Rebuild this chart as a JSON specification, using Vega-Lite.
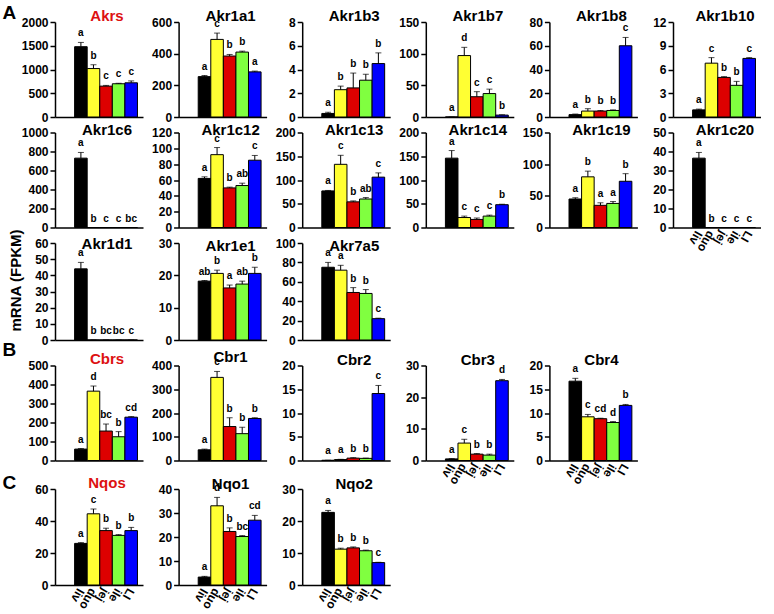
{
"$schema": "https://vega.github.io/schema/vega-lite/v6.json",
"padding": {"left": 2, "top": 3, "right": 0, "bottom": 0},
"datasets": {"d": [
{"g":"Akrs","t":"liv","v":1480,"hi":1570,"l":"a"},{"g":"Akrs","t":"duo","v":1020,"hi":1100,"l":"b"},{"g":"Akrs","t":"jej","v":650,"hi":665,"l":"c"},{"g":"Akrs","t":"ile","v":700,"hi":710,"l":"c"},{"g":"Akrs","t":"LI","v":720,"hi":760,"l":"c"},
{"g":"Akr1a1","t":"liv","v":255,"hi":262,"l":"a"},{"g":"Akr1a1","t":"duo","v":490,"hi":530,"l":"c"},{"g":"Akr1a1","t":"jej","v":385,"hi":395,"l":"b"},{"g":"Akr1a1","t":"ile","v":410,"hi":416,"l":"b"},{"g":"Akr1a1","t":"LI","v":285,"hi":290,"l":"a"},
{"g":"Akr1b3","t":"liv","v":0.3,"hi":0.4,"l":"a"},{"g":"Akr1b3","t":"duo","v":2.3,"hi":2.6,"l":"b"},{"g":"Akr1b3","t":"jej","v":2.45,"hi":3.7,"l":"b"},{"g":"Akr1b3","t":"ile","v":3.1,"hi":3.6,"l":"b"},{"g":"Akr1b3","t":"LI","v":4.5,"hi":5.4,"l":"b"},
{"g":"Akr1b7","t":"liv","v":0,"hi":0,"l":"a"},{"g":"Akr1b7","t":"duo","v":97,"hi":110,"l":"d"},{"g":"Akr1b7","t":"jej","v":32,"hi":40,"l":"c"},{"g":"Akr1b7","t":"ile","v":37,"hi":44,"l":"c"},{"g":"Akr1b7","t":"LI","v":3,"hi":3.5,"l":"b"},
{"g":"Akr1b8","t":"liv","v":2,"hi":2.5,"l":"a"},{"g":"Akr1b8","t":"duo","v":5,"hi":7,"l":"b"},{"g":"Akr1b8","t":"jej","v":5,"hi":5.5,"l":"b"},{"g":"Akr1b8","t":"ile","v":5.5,"hi":6,"l":"b"},{"g":"Akr1b8","t":"LI","v":60,"hi":67,"l":"c"},
{"g":"Akr1b10","t":"liv","v":0.9,"hi":1.0,"l":"a"},{"g":"Akr1b10","t":"duo","v":6.8,"hi":7.5,"l":"c"},{"g":"Akr1b10","t":"jej","v":5.0,"hi":5.1,"l":"b"},{"g":"Akr1b10","t":"ile","v":4.0,"hi":4.5,"l":"b"},{"g":"Akr1b10","t":"LI","v":7.4,"hi":7.5,"l":"c"},
{"g":"Akr1c6","t":"liv","v":730,"hi":790,"l":"a"},{"g":"Akr1c6","t":"duo","v":0,"hi":0,"l":"b"},{"g":"Akr1c6","t":"jej","v":0,"hi":0,"l":"c"},{"g":"Akr1c6","t":"ile","v":0,"hi":0,"l":"c"},{"g":"Akr1c6","t":"LI","v":0,"hi":0,"l":"bc"},
{"g":"Akr1c12","t":"liv","v":62,"hi":64,"l":"a"},{"g":"Akr1c12","t":"duo","v":92,"hi":101,"l":"c"},{"g":"Akr1c12","t":"jej","v":50,"hi":51,"l":"b"},{"g":"Akr1c12","t":"ile","v":53,"hi":56,"l":"ab"},{"g":"Akr1c12","t":"LI","v":85,"hi":91,"l":"c"},
{"g":"Akr1c13","t":"liv","v":77,"hi":78,"l":"a"},{"g":"Akr1c13","t":"duo","v":133,"hi":152,"l":"c"},{"g":"Akr1c13","t":"jej","v":54,"hi":56,"l":"b"},{"g":"Akr1c13","t":"ile","v":60,"hi":63,"l":"ab"},{"g":"Akr1c13","t":"LI","v":106,"hi":115,"l":"c"},
{"g":"Akr1c14","t":"liv","v":146,"hi":162,"l":"a"},{"g":"Akr1c14","t":"duo","v":21,"hi":24,"l":"c"},{"g":"Akr1c14","t":"jej","v":17,"hi":20,"l":"c"},{"g":"Akr1c14","t":"ile","v":24,"hi":26,"l":"c"},{"g":"Akr1c14","t":"LI","v":48,"hi":49,"l":"b"},
{"g":"Akr1c19","t":"liv","v":45,"hi":47,"l":"a"},{"g":"Akr1c19","t":"duo","v":80,"hi":89,"l":"b"},{"g":"Akr1c19","t":"jej","v":35,"hi":39,"l":"a"},{"g":"Akr1c19","t":"ile","v":38,"hi":41,"l":"a"},{"g":"Akr1c19","t":"LI","v":73,"hi":85,"l":"b"},
{"g":"Akr1c20","t":"liv","v":36.5,"hi":39.5,"l":"a"},{"g":"Akr1c20","t":"duo","v":0,"hi":0,"l":"b"},{"g":"Akr1c20","t":"jej","v":0,"hi":0,"l":"c"},{"g":"Akr1c20","t":"ile","v":0,"hi":0,"l":"c"},{"g":"Akr1c20","t":"LI","v":0,"hi":0,"l":"c"},
{"g":"Akr1d1","t":"liv","v":44,"hi":48,"l":"a"},{"g":"Akr1d1","t":"duo","v":0,"hi":0,"l":"b"},{"g":"Akr1d1","t":"jej","v":0,"hi":0,"l":"bc"},{"g":"Akr1d1","t":"ile","v":0,"hi":0,"l":"bc"},{"g":"Akr1d1","t":"LI","v":0,"hi":0,"l":"c"},
{"g":"Akr1e1","t":"liv","v":18.2,"hi":18.4,"l":"ab"},{"g":"Akr1e1","t":"duo","v":20.6,"hi":21.6,"l":"b"},{"g":"Akr1e1","t":"jej","v":16.1,"hi":17.0,"l":"a"},{"g":"Akr1e1","t":"ile","v":17.3,"hi":18.2,"l":"ab"},{"g":"Akr1e1","t":"LI","v":20.6,"hi":22.5,"l":"b"},
{"g":"Akr7a5","t":"liv","v":75,"hi":80,"l":"a"},{"g":"Akr7a5","t":"duo","v":72,"hi":77,"l":"a"},{"g":"Akr7a5","t":"jej","v":49,"hi":54,"l":"b"},{"g":"Akr7a5","t":"ile","v":48,"hi":52,"l":"b"},{"g":"Akr7a5","t":"LI","v":22,"hi":22.5,"l":"c"},
{"g":"Cbrs","t":"liv","v":60,"hi":63,"l":"a"},{"g":"Cbrs","t":"duo","v":365,"hi":392,"l":"d"},{"g":"Cbrs","t":"jej","v":155,"hi":192,"l":"bc"},{"g":"Cbrs","t":"ile","v":125,"hi":152,"l":"b"},{"g":"Cbrs","t":"LI","v":228,"hi":231,"l":"cd"},
{"g":"Cbr1","t":"liv","v":45,"hi":48,"l":"a"},{"g":"Cbr1","t":"duo","v":350,"hi":375,"l":"c"},{"g":"Cbr1","t":"jej","v":143,"hi":180,"l":"b"},{"g":"Cbr1","t":"ile","v":113,"hi":140,"l":"b"},{"g":"Cbr1","t":"LI","v":177,"hi":180,"l":"b"},
{"g":"Cbr2","t":"liv","v":0.05,"hi":0.05,"l":"a"},{"g":"Cbr2","t":"duo","v":0.2,"hi":0.25,"l":"a"},{"g":"Cbr2","t":"jej","v":0.5,"hi":0.6,"l":"b"},{"g":"Cbr2","t":"ile","v":0.45,"hi":0.5,"l":"b"},{"g":"Cbr2","t":"LI","v":14.1,"hi":15.8,"l":"c"},
{"g":"Cbr3","t":"liv","v":0.5,"hi":0.6,"l":"a"},{"g":"Cbr3","t":"duo","v":5.5,"hi":6.7,"l":"c"},{"g":"Cbr3","t":"jej","v":2.0,"hi":2.2,"l":"b"},{"g":"Cbr3","t":"ile","v":1.7,"hi":2.0,"l":"b"},{"g":"Cbr3","t":"LI","v":25.2,"hi":25.6,"l":"d"},
{"g":"Cbr4","t":"liv","v":16.7,"hi":17.3,"l":"a"},{"g":"Cbr4","t":"duo","v":9.2,"hi":9.7,"l":"c"},{"g":"Cbr4","t":"jej","v":8.8,"hi":8.9,"l":"cd"},{"g":"Cbr4","t":"ile","v":8.0,"hi":8.2,"l":"d"},{"g":"Cbr4","t":"LI","v":11.6,"hi":11.8,"l":"b"},
{"g":"Nqos","t":"liv","v":26,"hi":26.5,"l":"a"},{"g":"Nqos","t":"duo","v":44.5,"hi":47.5,"l":"c"},{"g":"Nqos","t":"jej","v":34,"hi":35.5,"l":"b"},{"g":"Nqos","t":"ile","v":31,"hi":31.5,"l":"b"},{"g":"Nqos","t":"LI","v":34,"hi":36,"l":"b"},
{"g":"Nqo1","t":"liv","v":3.3,"hi":3.6,"l":"a"},{"g":"Nqo1","t":"duo","v":33,"hi":36.5,"l":"d"},{"g":"Nqo1","t":"jej","v":22.3,"hi":23.8,"l":"b"},{"g":"Nqo1","t":"ile","v":20.2,"hi":20.6,"l":"bc"},{"g":"Nqo1","t":"LI","v":27,"hi":29,"l":"cd"},
{"g":"Nqo2","t":"liv","v":22.7,"hi":23.3,"l":"a"},{"g":"Nqo2","t":"duo","v":11.2,"hi":11.5,"l":"b"},{"g":"Nqo2","t":"jej","v":11.6,"hi":11.9,"l":"b"},{"g":"Nqo2","t":"ile","v":10.7,"hi":10.9,"l":"b"},{"g":"Nqo2","t":"LI","v":7.0,"hi":7.1,"l":"c"}
]},
"data": {"name": "d"},
"columns": 6,
"align": "each",
"bounds": "flush",
"spacing": {"row": 15.5, "column": 35.6},
"concat": [
{"title":{"text":"Akrs","color":"#DD1111","offset":-21},"width":88,"height":95,"transform":[{"filter":"datum.g=='Akrs'"}],"encoding":{"x":{"field":"t","type":"nominal","scale":{"domain":["liv","duo","jej","ile","LI"],"paddingInner":0,"paddingOuter":1.02,"align":0.78},"axis":{"labels":false,"ticks":false,"title":null}},"y":{"field":"v","type":"quantitative","scale":{"domain":[0,2000],"nice":false},"axis":{"values":[0,500,1000,1500,2000],"format":"d","title":"A","titleAngle":0,"titleX":-53,"titleY":-4,"titleAlign":"left","titleBaseline":"alphabetic","titleFontSize":19}}},"layer":[{"mark":{"type":"bar","stroke":"black","strokeWidth":1},"encoding":{"color":{"field":"t","type":"nominal","scale":{"domain":["liv","duo","jej","ile","LI"],"range":["#000000","#FFFF33","#DD0000","#80FF40","#0000FF"]},"legend":null}}},{"mark":{"type":"rule","color":"black"},"encoding":{"y2":{"field":"hi"}}},{"mark":{"type":"tick","color":"black","thickness":1,"size":6},"encoding":{"y":{"field":"hi","type":"quantitative"}}},{"mark":{"type":"text","baseline":"alphabetic","dy":-6},"encoding":{"y":{"field":"hi","type":"quantitative"},"text":{"field":"l"}}}]},
{"title":{"text":"Akr1a1"},"width":88,"height":95,"transform":[{"filter":"datum.g=='Akr1a1'"}],"encoding":{"x":{"field":"t","type":"nominal","scale":{"domain":["liv","duo","jej","ile","LI"],"paddingInner":0,"paddingOuter":1.02,"align":0.78},"axis":{"labels":false,"ticks":false,"title":null}},"y":{"field":"v","type":"quantitative","title":null,"scale":{"domain":[0,600],"nice":false},"axis":{"values":[0,200,400,600]}}},"layer":[{"mark":{"type":"bar","stroke":"black","strokeWidth":1},"encoding":{"color":{"field":"t","type":"nominal","scale":{"domain":["liv","duo","jej","ile","LI"],"range":["#000000","#FFFF33","#DD0000","#80FF40","#0000FF"]},"legend":null}}},{"mark":{"type":"rule","color":"black"},"encoding":{"y2":{"field":"hi"}}},{"mark":{"type":"tick","color":"black","thickness":1,"size":6},"encoding":{"y":{"field":"hi","type":"quantitative","title":null}}},{"mark":{"type":"text","baseline":"alphabetic","dy":-6},"encoding":{"y":{"field":"hi","type":"quantitative","title":null},"text":{"field":"l"}}}]},
{"title":{"text":"Akr1b3"},"width":88,"height":95,"transform":[{"filter":"datum.g=='Akr1b3'"}],"encoding":{"x":{"field":"t","type":"nominal","scale":{"domain":["liv","duo","jej","ile","LI"],"paddingInner":0,"paddingOuter":1.02,"align":0.78},"axis":{"labels":false,"ticks":false,"title":null}},"y":{"field":"v","type":"quantitative","title":null,"scale":{"domain":[0,8],"nice":false},"axis":{"values":[0,2,4,6,8]}}},"layer":[{"mark":{"type":"bar","stroke":"black","strokeWidth":1},"encoding":{"color":{"field":"t","type":"nominal","scale":{"domain":["liv","duo","jej","ile","LI"],"range":["#000000","#FFFF33","#DD0000","#80FF40","#0000FF"]},"legend":null}}},{"mark":{"type":"rule","color":"black"},"encoding":{"y2":{"field":"hi"}}},{"mark":{"type":"tick","color":"black","thickness":1,"size":6},"encoding":{"y":{"field":"hi","type":"quantitative","title":null}}},{"mark":{"type":"text","baseline":"alphabetic","dy":-6},"encoding":{"y":{"field":"hi","type":"quantitative","title":null},"text":{"field":"l"}}}]},
{"title":{"text":"Akr1b7"},"width":88,"height":95,"transform":[{"filter":"datum.g=='Akr1b7'"}],"encoding":{"x":{"field":"t","type":"nominal","scale":{"domain":["liv","duo","jej","ile","LI"],"paddingInner":0,"paddingOuter":1.02,"align":0.78},"axis":{"labels":false,"ticks":false,"title":null}},"y":{"field":"v","type":"quantitative","title":null,"scale":{"domain":[0,150],"nice":false},"axis":{"values":[0,50,100,150]}}},"layer":[{"mark":{"type":"bar","stroke":"black","strokeWidth":1},"encoding":{"color":{"field":"t","type":"nominal","scale":{"domain":["liv","duo","jej","ile","LI"],"range":["#000000","#FFFF33","#DD0000","#80FF40","#0000FF"]},"legend":null}}},{"mark":{"type":"rule","color":"black"},"encoding":{"y2":{"field":"hi"}}},{"mark":{"type":"tick","color":"black","thickness":1,"size":6},"encoding":{"y":{"field":"hi","type":"quantitative","title":null}}},{"mark":{"type":"text","baseline":"alphabetic","dy":-6},"encoding":{"y":{"field":"hi","type":"quantitative","title":null},"text":{"field":"l"}}}]},
{"title":{"text":"Akr1b8"},"width":88,"height":95,"transform":[{"filter":"datum.g=='Akr1b8'"}],"encoding":{"x":{"field":"t","type":"nominal","scale":{"domain":["liv","duo","jej","ile","LI"],"paddingInner":0,"paddingOuter":1.02,"align":0.78},"axis":{"labels":false,"ticks":false,"title":null}},"y":{"field":"v","type":"quantitative","title":null,"scale":{"domain":[0,80],"nice":false},"axis":{"values":[0,20,40,60,80]}}},"layer":[{"mark":{"type":"bar","stroke":"black","strokeWidth":1},"encoding":{"color":{"field":"t","type":"nominal","scale":{"domain":["liv","duo","jej","ile","LI"],"range":["#000000","#FFFF33","#DD0000","#80FF40","#0000FF"]},"legend":null}}},{"mark":{"type":"rule","color":"black"},"encoding":{"y2":{"field":"hi"}}},{"mark":{"type":"tick","color":"black","thickness":1,"size":6},"encoding":{"y":{"field":"hi","type":"quantitative","title":null}}},{"mark":{"type":"text","baseline":"alphabetic","dy":-6},"encoding":{"y":{"field":"hi","type":"quantitative","title":null},"text":{"field":"l"}}}]},
{"title":{"text":"Akr1b10"},"width":88,"height":95,"transform":[{"filter":"datum.g=='Akr1b10'"}],"encoding":{"x":{"field":"t","type":"nominal","scale":{"domain":["liv","duo","jej","ile","LI"],"paddingInner":0,"paddingOuter":1.02,"align":0.78},"axis":{"labels":false,"ticks":false,"title":null}},"y":{"field":"v","type":"quantitative","title":null,"scale":{"domain":[0,12],"nice":false},"axis":{"values":[0,3,6,9,12]}}},"layer":[{"mark":{"type":"bar","stroke":"black","strokeWidth":1},"encoding":{"color":{"field":"t","type":"nominal","scale":{"domain":["liv","duo","jej","ile","LI"],"range":["#000000","#FFFF33","#DD0000","#80FF40","#0000FF"]},"legend":null}}},{"mark":{"type":"rule","color":"black"},"encoding":{"y2":{"field":"hi"}}},{"mark":{"type":"tick","color":"black","thickness":1,"size":6},"encoding":{"y":{"field":"hi","type":"quantitative","title":null}}},{"mark":{"type":"text","baseline":"alphabetic","dy":-6},"encoding":{"y":{"field":"hi","type":"quantitative","title":null},"text":{"field":"l"}}}]},
{"title":{"text":"Akr1c6","offset":-11},"width":88,"height":95,"transform":[{"filter":"datum.g=='Akr1c6'"}],"encoding":{"x":{"field":"t","type":"nominal","scale":{"domain":["liv","duo","jej","ile","LI"],"paddingInner":0,"paddingOuter":1.02,"align":0.78},"axis":{"labels":false,"ticks":false,"title":null}},"y":{"field":"v","type":"quantitative","title":null,"scale":{"domain":[0,1000],"nice":false},"axis":{"values":[0,200,400,600,800,1000],"format":"d"}}},"layer":[{"mark":{"type":"bar","stroke":"black","strokeWidth":1},"encoding":{"color":{"field":"t","type":"nominal","scale":{"domain":["liv","duo","jej","ile","LI"],"range":["#000000","#FFFF33","#DD0000","#80FF40","#0000FF"]},"legend":null}}},{"mark":{"type":"rule","color":"black"},"encoding":{"y2":{"field":"hi"}}},{"mark":{"type":"tick","color":"black","thickness":1,"size":6},"encoding":{"y":{"field":"hi","type":"quantitative","title":null}}},{"mark":{"type":"text","baseline":"alphabetic","dy":-6},"encoding":{"y":{"field":"hi","type":"quantitative","title":null},"text":{"field":"l"}}}]},
{"title":{"text":"Akr1c12","offset":-11},"width":88,"height":95,"transform":[{"filter":"datum.g=='Akr1c12'"}],"encoding":{"x":{"field":"t","type":"nominal","scale":{"domain":["liv","duo","jej","ile","LI"],"paddingInner":0,"paddingOuter":1.02,"align":0.78},"axis":{"labels":false,"ticks":false,"title":null}},"y":{"field":"v","type":"quantitative","title":null,"scale":{"domain":[0,120],"nice":false},"axis":{"values":[0,20,40,60,80,100,120]}}},"layer":[{"mark":{"type":"bar","stroke":"black","strokeWidth":1},"encoding":{"color":{"field":"t","type":"nominal","scale":{"domain":["liv","duo","jej","ile","LI"],"range":["#000000","#FFFF33","#DD0000","#80FF40","#0000FF"]},"legend":null}}},{"mark":{"type":"rule","color":"black"},"encoding":{"y2":{"field":"hi"}}},{"mark":{"type":"tick","color":"black","thickness":1,"size":6},"encoding":{"y":{"field":"hi","type":"quantitative","title":null}}},{"mark":{"type":"text","baseline":"alphabetic","dy":-6},"encoding":{"y":{"field":"hi","type":"quantitative","title":null},"text":{"field":"l"}}}]},
{"title":{"text":"Akr1c13","offset":-11},"width":88,"height":95,"transform":[{"filter":"datum.g=='Akr1c13'"}],"encoding":{"x":{"field":"t","type":"nominal","scale":{"domain":["liv","duo","jej","ile","LI"],"paddingInner":0,"paddingOuter":1.02,"align":0.78},"axis":{"labels":false,"ticks":false,"title":null}},"y":{"field":"v","type":"quantitative","title":null,"scale":{"domain":[0,200],"nice":false},"axis":{"values":[0,50,100,150,200]}}},"layer":[{"mark":{"type":"bar","stroke":"black","strokeWidth":1},"encoding":{"color":{"field":"t","type":"nominal","scale":{"domain":["liv","duo","jej","ile","LI"],"range":["#000000","#FFFF33","#DD0000","#80FF40","#0000FF"]},"legend":null}}},{"mark":{"type":"rule","color":"black"},"encoding":{"y2":{"field":"hi"}}},{"mark":{"type":"tick","color":"black","thickness":1,"size":6},"encoding":{"y":{"field":"hi","type":"quantitative","title":null}}},{"mark":{"type":"text","baseline":"alphabetic","dy":-6},"encoding":{"y":{"field":"hi","type":"quantitative","title":null},"text":{"field":"l"}}}]},
{"title":{"text":"Akr1c14","offset":-11},"width":88,"height":95,"transform":[{"filter":"datum.g=='Akr1c14'"}],"encoding":{"x":{"field":"t","type":"nominal","scale":{"domain":["liv","duo","jej","ile","LI"],"paddingInner":0,"paddingOuter":1.02,"align":0.78},"axis":{"labels":false,"ticks":false,"title":null}},"y":{"field":"v","type":"quantitative","title":null,"scale":{"domain":[0,200],"nice":false},"axis":{"values":[0,50,100,150,200]}}},"layer":[{"mark":{"type":"bar","stroke":"black","strokeWidth":1},"encoding":{"color":{"field":"t","type":"nominal","scale":{"domain":["liv","duo","jej","ile","LI"],"range":["#000000","#FFFF33","#DD0000","#80FF40","#0000FF"]},"legend":null}}},{"mark":{"type":"rule","color":"black"},"encoding":{"y2":{"field":"hi"}}},{"mark":{"type":"tick","color":"black","thickness":1,"size":6},"encoding":{"y":{"field":"hi","type":"quantitative","title":null}}},{"mark":{"type":"text","baseline":"alphabetic","dy":-6},"encoding":{"y":{"field":"hi","type":"quantitative","title":null},"text":{"field":"l"}}}]},
{"title":{"text":"Akr1c19","offset":-11},"width":88,"height":95,"transform":[{"filter":"datum.g=='Akr1c19'"}],"encoding":{"x":{"field":"t","type":"nominal","scale":{"domain":["liv","duo","jej","ile","LI"],"paddingInner":0,"paddingOuter":1.02,"align":0.78},"axis":{"labels":false,"ticks":false,"title":null}},"y":{"field":"v","type":"quantitative","title":null,"scale":{"domain":[0,150],"nice":false},"axis":{"values":[0,50,100,150]}}},"layer":[{"mark":{"type":"bar","stroke":"black","strokeWidth":1},"encoding":{"color":{"field":"t","type":"nominal","scale":{"domain":["liv","duo","jej","ile","LI"],"range":["#000000","#FFFF33","#DD0000","#80FF40","#0000FF"]},"legend":null}}},{"mark":{"type":"rule","color":"black"},"encoding":{"y2":{"field":"hi"}}},{"mark":{"type":"tick","color":"black","thickness":1,"size":6},"encoding":{"y":{"field":"hi","type":"quantitative","title":null}}},{"mark":{"type":"text","baseline":"alphabetic","dy":-6},"encoding":{"y":{"field":"hi","type":"quantitative","title":null},"text":{"field":"l"}}}]},
{"title":{"text":"Akr1c20","offset":-11},"width":88,"height":95,"transform":[{"filter":"datum.g=='Akr1c20'"}],"encoding":{"x":{"field":"t","type":"nominal","scale":{"domain":["liv","duo","jej","ile","LI"],"paddingInner":0,"paddingOuter":1.02,"align":0.78},"axis":{"ticks":false,"title":null,"labelAngle":120,"labelAlign":"left","labelBaseline":"middle","labelPadding":4}},"y":{"field":"v","type":"quantitative","title":null,"scale":{"domain":[0,50],"nice":false},"axis":{"values":[0,10,20,30,40,50]}}},"layer":[{"mark":{"type":"bar","stroke":"black","strokeWidth":1},"encoding":{"color":{"field":"t","type":"nominal","scale":{"domain":["liv","duo","jej","ile","LI"],"range":["#000000","#FFFF33","#DD0000","#80FF40","#0000FF"]},"legend":null}}},{"mark":{"type":"rule","color":"black"},"encoding":{"y2":{"field":"hi"}}},{"mark":{"type":"tick","color":"black","thickness":1,"size":6},"encoding":{"y":{"field":"hi","type":"quantitative","title":null}}},{"mark":{"type":"text","baseline":"alphabetic","dy":-6},"encoding":{"y":{"field":"hi","type":"quantitative","title":null},"text":{"field":"l"}}}]},
{"title":{"text":"Akr1d1","offset":-23},"width":88,"height":97,"transform":[{"filter":"datum.g=='Akr1d1'"}],"encoding":{"x":{"field":"t","type":"nominal","scale":{"domain":["liv","duo","jej","ile","LI"],"paddingInner":0,"paddingOuter":1.02,"align":0.78},"axis":{"labels":false,"ticks":false,"title":null}},"y":{"field":"v","type":"quantitative","scale":{"domain":[0,60],"nice":false},"axis":{"values":[0,10,20,30,40,50,60],"title":"mRNA (FPKM)","titleFontSize":15,"titleAngle":-90,"titleX":-40,"titleY":37,"titleAlign":"center","titleBaseline":"middle"}}},"layer":[{"mark":{"type":"bar","stroke":"black","strokeWidth":1},"encoding":{"color":{"field":"t","type":"nominal","scale":{"domain":["liv","duo","jej","ile","LI"],"range":["#000000","#FFFF33","#DD0000","#80FF40","#0000FF"]},"legend":null}}},{"mark":{"type":"rule","color":"black"},"encoding":{"y2":{"field":"hi"}}},{"mark":{"type":"tick","color":"black","thickness":1,"size":6},"encoding":{"y":{"field":"hi","type":"quantitative"}}},{"mark":{"type":"text","baseline":"alphabetic","dy":-6},"encoding":{"y":{"field":"hi","type":"quantitative"},"text":{"field":"l"}}}]},
{"title":{"text":"Akr1e1","offset":-17},"width":88,"height":97,"transform":[{"filter":"datum.g=='Akr1e1'"}],"encoding":{"x":{"field":"t","type":"nominal","scale":{"domain":["liv","duo","jej","ile","LI"],"paddingInner":0,"paddingOuter":1.02,"align":0.78},"axis":{"labels":false,"ticks":false,"title":null}},"y":{"field":"v","type":"quantitative","title":null,"scale":{"domain":[0,30],"nice":false},"axis":{"values":[0,10,20,30]}}},"layer":[{"mark":{"type":"bar","stroke":"black","strokeWidth":1},"encoding":{"color":{"field":"t","type":"nominal","scale":{"domain":["liv","duo","jej","ile","LI"],"range":["#000000","#FFFF33","#DD0000","#80FF40","#0000FF"]},"legend":null}}},{"mark":{"type":"rule","color":"black"},"encoding":{"y2":{"field":"hi"}}},{"mark":{"type":"tick","color":"black","thickness":1,"size":6},"encoding":{"y":{"field":"hi","type":"quantitative","title":null}}},{"mark":{"type":"text","baseline":"alphabetic","dy":-6},"encoding":{"y":{"field":"hi","type":"quantitative","title":null},"text":{"field":"l"}}}]},
{"title":{"text":"Akr7a5","offset":-17},"width":88,"height":97,"transform":[{"filter":"datum.g=='Akr7a5'"}],"encoding":{"x":{"field":"t","type":"nominal","scale":{"domain":["liv","duo","jej","ile","LI"],"paddingInner":0,"paddingOuter":1.02,"align":0.78},"axis":{"labels":false,"ticks":false,"title":null}},"y":{"field":"v","type":"quantitative","title":null,"scale":{"domain":[0,100],"nice":false},"axis":{"values":[0,20,40,60,80,100]}}},"layer":[{"mark":{"type":"bar","stroke":"black","strokeWidth":1},"encoding":{"color":{"field":"t","type":"nominal","scale":{"domain":["liv","duo","jej","ile","LI"],"range":["#000000","#FFFF33","#DD0000","#80FF40","#0000FF"]},"legend":null}}},{"mark":{"type":"rule","color":"black"},"encoding":{"y2":{"field":"hi"}}},{"mark":{"type":"tick","color":"black","thickness":1,"size":6},"encoding":{"y":{"field":"hi","type":"quantitative","title":null}}},{"mark":{"type":"text","baseline":"alphabetic","dy":-6},"encoding":{"y":{"field":"hi","type":"quantitative","title":null},"text":{"field":"l"}}}]},
{"data":{"values":[]},"mark":"point","width":10,"height":106.5},
{"data":{"values":[]},"mark":"point","width":10,"height":1},
{"data":{"values":[]},"mark":"point","width":10,"height":1},
{"title":{"text":"Cbrs","color":"#DD1111","offset":-26},"width":88,"height":95,"transform":[{"filter":"datum.g=='Cbrs'"}],"encoding":{"x":{"field":"t","type":"nominal","scale":{"domain":["liv","duo","jej","ile","LI"],"paddingInner":0,"paddingOuter":1.02,"align":0.78},"axis":{"labels":false,"ticks":false,"title":null}},"y":{"field":"v","type":"quantitative","scale":{"domain":[0,500],"nice":false},"axis":{"values":[0,100,200,300,400,500],"title":"B","titleAngle":0,"titleX":-53,"titleY":-10,"titleAlign":"left","titleBaseline":"alphabetic","titleFontSize":19}}},"layer":[{"mark":{"type":"bar","stroke":"black","strokeWidth":1},"encoding":{"color":{"field":"t","type":"nominal","scale":{"domain":["liv","duo","jej","ile","LI"],"range":["#000000","#FFFF33","#DD0000","#80FF40","#0000FF"]},"legend":null}}},{"mark":{"type":"rule","color":"black"},"encoding":{"y2":{"field":"hi"}}},{"mark":{"type":"tick","color":"black","thickness":1,"size":6},"encoding":{"y":{"field":"hi","type":"quantitative"}}},{"mark":{"type":"text","baseline":"alphabetic","dy":-6},"encoding":{"y":{"field":"hi","type":"quantitative"},"text":{"field":"l"}}}]},
{"title":{"text":"Cbr1"},"width":88,"height":95,"transform":[{"filter":"datum.g=='Cbr1'"}],"encoding":{"x":{"field":"t","type":"nominal","scale":{"domain":["liv","duo","jej","ile","LI"],"paddingInner":0,"paddingOuter":1.02,"align":0.78},"axis":{"labels":false,"ticks":false,"title":null}},"y":{"field":"v","type":"quantitative","title":null,"scale":{"domain":[0,400],"nice":false},"axis":{"values":[0,100,200,300,400]}}},"layer":[{"mark":{"type":"bar","stroke":"black","strokeWidth":1},"encoding":{"color":{"field":"t","type":"nominal","scale":{"domain":["liv","duo","jej","ile","LI"],"range":["#000000","#FFFF33","#DD0000","#80FF40","#0000FF"]},"legend":null}}},{"mark":{"type":"rule","color":"black"},"encoding":{"y2":{"field":"hi"}}},{"mark":{"type":"tick","color":"black","thickness":1,"size":6},"encoding":{"y":{"field":"hi","type":"quantitative","title":null}}},{"mark":{"type":"text","baseline":"alphabetic","dy":-6},"encoding":{"y":{"field":"hi","type":"quantitative","title":null},"text":{"field":"l"}}}]},
{"title":{"text":"Cbr2"},"width":88,"height":95,"transform":[{"filter":"datum.g=='Cbr2'"}],"encoding":{"x":{"field":"t","type":"nominal","scale":{"domain":["liv","duo","jej","ile","LI"],"paddingInner":0,"paddingOuter":1.02,"align":0.78},"axis":{"labels":false,"ticks":false,"title":null}},"y":{"field":"v","type":"quantitative","title":null,"scale":{"domain":[0,20],"nice":false},"axis":{"values":[0,5,10,15,20]}}},"layer":[{"mark":{"type":"bar","stroke":"black","strokeWidth":1},"encoding":{"color":{"field":"t","type":"nominal","scale":{"domain":["liv","duo","jej","ile","LI"],"range":["#000000","#FFFF33","#DD0000","#80FF40","#0000FF"]},"legend":null}}},{"mark":{"type":"rule","color":"black"},"encoding":{"y2":{"field":"hi"}}},{"mark":{"type":"tick","color":"black","thickness":1,"size":6},"encoding":{"y":{"field":"hi","type":"quantitative","title":null}}},{"mark":{"type":"text","baseline":"alphabetic","dy":-6},"encoding":{"y":{"field":"hi","type":"quantitative","title":null},"text":{"field":"l"}}}]},
{"title":{"text":"Cbr3"},"width":88,"height":95,"transform":[{"filter":"datum.g=='Cbr3'"}],"encoding":{"x":{"field":"t","type":"nominal","scale":{"domain":["liv","duo","jej","ile","LI"],"paddingInner":0,"paddingOuter":1.02,"align":0.78},"axis":{"ticks":false,"title":null,"labelAngle":120,"labelAlign":"left","labelBaseline":"middle","labelPadding":4}},"y":{"field":"v","type":"quantitative","title":null,"scale":{"domain":[0,30],"nice":false},"axis":{"values":[0,10,20,30]}}},"layer":[{"mark":{"type":"bar","stroke":"black","strokeWidth":1},"encoding":{"color":{"field":"t","type":"nominal","scale":{"domain":["liv","duo","jej","ile","LI"],"range":["#000000","#FFFF33","#DD0000","#80FF40","#0000FF"]},"legend":null}}},{"mark":{"type":"rule","color":"black"},"encoding":{"y2":{"field":"hi"}}},{"mark":{"type":"tick","color":"black","thickness":1,"size":6},"encoding":{"y":{"field":"hi","type":"quantitative","title":null}}},{"mark":{"type":"text","baseline":"alphabetic","dy":-6},"encoding":{"y":{"field":"hi","type":"quantitative","title":null},"text":{"field":"l"}}}]},
{"title":{"text":"Cbr4"},"width":88,"height":95,"transform":[{"filter":"datum.g=='Cbr4'"}],"encoding":{"x":{"field":"t","type":"nominal","scale":{"domain":["liv","duo","jej","ile","LI"],"paddingInner":0,"paddingOuter":1.02,"align":0.78},"axis":{"ticks":false,"title":null,"labelAngle":120,"labelAlign":"left","labelBaseline":"middle","labelPadding":4}},"y":{"field":"v","type":"quantitative","title":null,"scale":{"domain":[0,20],"nice":false},"axis":{"values":[0,5,10,15,20]}}},"layer":[{"mark":{"type":"bar","stroke":"black","strokeWidth":1},"encoding":{"color":{"field":"t","type":"nominal","scale":{"domain":["liv","duo","jej","ile","LI"],"range":["#000000","#FFFF33","#DD0000","#80FF40","#0000FF"]},"legend":null}}},{"mark":{"type":"rule","color":"black"},"encoding":{"y2":{"field":"hi"}}},{"mark":{"type":"tick","color":"black","thickness":1,"size":6},"encoding":{"y":{"field":"hi","type":"quantitative","title":null}}},{"mark":{"type":"text","baseline":"alphabetic","dy":-6},"encoding":{"y":{"field":"hi","type":"quantitative","title":null},"text":{"field":"l"}}}]},
{"data":{"values":[]},"mark":"point","width":10,"height":107.5},
{"title":{"text":"Nqos","color":"#DD1111","offset":-18},"width":88,"height":96,"transform":[{"filter":"datum.g=='Nqos'"}],"encoding":{"x":{"field":"t","type":"nominal","scale":{"domain":["liv","duo","jej","ile","LI"],"paddingInner":0,"paddingOuter":1.02,"align":0.78},"axis":{"ticks":false,"title":null,"labelAngle":120,"labelAlign":"left","labelBaseline":"middle","labelPadding":4}},"y":{"field":"v","type":"quantitative","scale":{"domain":[0,60],"nice":false},"axis":{"values":[0,20,40,60],"title":"C","titleAngle":0,"titleX":-53,"titleY":-1,"titleAlign":"left","titleBaseline":"alphabetic","titleFontSize":19}}},"layer":[{"mark":{"type":"bar","stroke":"black","strokeWidth":1},"encoding":{"color":{"field":"t","type":"nominal","scale":{"domain":["liv","duo","jej","ile","LI"],"range":["#000000","#FFFF33","#DD0000","#80FF40","#0000FF"]},"legend":null}}},{"mark":{"type":"rule","color":"black"},"encoding":{"y2":{"field":"hi"}}},{"mark":{"type":"tick","color":"black","thickness":1,"size":6},"encoding":{"y":{"field":"hi","type":"quantitative"}}},{"mark":{"type":"text","baseline":"alphabetic","dy":-6},"encoding":{"y":{"field":"hi","type":"quantitative"},"text":{"field":"l"}}}]},
{"title":{"text":"Nqo1","offset":-9},"width":88,"height":96,"transform":[{"filter":"datum.g=='Nqo1'"}],"encoding":{"x":{"field":"t","type":"nominal","scale":{"domain":["liv","duo","jej","ile","LI"],"paddingInner":0,"paddingOuter":1.02,"align":0.78},"axis":{"ticks":false,"title":null,"labelAngle":120,"labelAlign":"left","labelBaseline":"middle","labelPadding":4}},"y":{"field":"v","type":"quantitative","title":null,"scale":{"domain":[0,40],"nice":false},"axis":{"values":[0,10,20,30,40]}}},"layer":[{"mark":{"type":"bar","stroke":"black","strokeWidth":1},"encoding":{"color":{"field":"t","type":"nominal","scale":{"domain":["liv","duo","jej","ile","LI"],"range":["#000000","#FFFF33","#DD0000","#80FF40","#0000FF"]},"legend":null}}},{"mark":{"type":"rule","color":"black"},"encoding":{"y2":{"field":"hi"}}},{"mark":{"type":"tick","color":"black","thickness":1,"size":6},"encoding":{"y":{"field":"hi","type":"quantitative","title":null}}},{"mark":{"type":"text","baseline":"alphabetic","dy":-6},"encoding":{"y":{"field":"hi","type":"quantitative","title":null},"text":{"field":"l"}}}]},
{"title":{"text":"Nqo2","offset":-9},"width":88,"height":96,"transform":[{"filter":"datum.g=='Nqo2'"}],"encoding":{"x":{"field":"t","type":"nominal","scale":{"domain":["liv","duo","jej","ile","LI"],"paddingInner":0,"paddingOuter":1.02,"align":0.78},"axis":{"ticks":false,"title":null,"labelAngle":120,"labelAlign":"left","labelBaseline":"middle","labelPadding":4}},"y":{"field":"v","type":"quantitative","title":null,"scale":{"domain":[0,30],"nice":false},"axis":{"values":[0,10,20,30]}}},"layer":[{"mark":{"type":"bar","stroke":"black","strokeWidth":1},"encoding":{"color":{"field":"t","type":"nominal","scale":{"domain":["liv","duo","jej","ile","LI"],"range":["#000000","#FFFF33","#DD0000","#80FF40","#0000FF"]},"legend":null}}},{"mark":{"type":"rule","color":"black"},"encoding":{"y2":{"field":"hi"}}},{"mark":{"type":"tick","color":"black","thickness":1,"size":6},"encoding":{"y":{"field":"hi","type":"quantitative","title":null}}},{"mark":{"type":"text","baseline":"alphabetic","dy":-6},"encoding":{"y":{"field":"hi","type":"quantitative","title":null},"text":{"field":"l"}}}]}
],
"config": {
"view": {"stroke": null},
"axis": {"domainColor": "black", "domainWidth": 1.5, "tickColor": "black", "tickWidth": 1.5, "tickSize": 5, "labelFont": "Liberation Sans", "labelFontWeight": "bold", "labelFontSize": 12, "labelColor": "black", "grid": false, "labelOverlap": false, "labelFlush": false, "labelBound": false, "titleFont": "Liberation Sans", "titleFontWeight": "bold", "titleColor": "black"},
"title": {"font": "Liberation Sans", "fontSize": 15, "fontWeight": "bold", "color": "black", "anchor": "middle", "frame": "group", "offset": -8, "dx": 8},
"text": {"font": "Liberation Sans", "fontWeight": "bold", "fontSize": 10, "color": "black"}
}
}
